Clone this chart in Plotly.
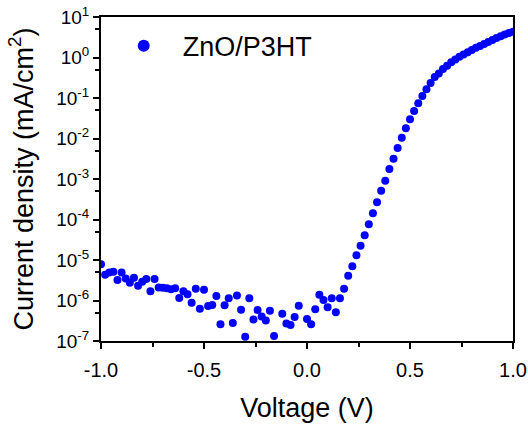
import plotly.graph_objects as go

voltage = [-1.00, -0.98, -0.96, -0.94, -0.92, -0.90, -0.88, -0.86, -0.84, -0.82,
           -0.80, -0.78, -0.76, -0.74, -0.72, -0.70, -0.68, -0.66, -0.64, -0.62,
           -0.60, -0.58, -0.56, -0.54, -0.52, -0.50, -0.48, -0.46, -0.44, -0.42,
           -0.40, -0.38, -0.36, -0.34, -0.32, -0.30, -0.28, -0.26, -0.24, -0.22,
           -0.20, -0.18, -0.16, -0.14, -0.12, -0.10, -0.08, -0.06, -0.04, -0.02,
           0.00, 0.02, 0.04, 0.06, 0.08, 0.10, 0.12, 0.14, 0.16, 0.18,
           0.20, 0.22, 0.24, 0.26, 0.28, 0.30, 0.32, 0.34, 0.36, 0.38,
           0.40, 0.42, 0.44, 0.46, 0.48, 0.50, 0.52, 0.54, 0.56, 0.58,
           0.60, 0.62, 0.64, 0.66, 0.68, 0.70, 0.72, 0.74, 0.76, 0.78,
           0.80, 0.82, 0.84, 0.86, 0.88, 0.90, 0.92, 0.94, 0.96, 0.98, 1.00]

current_density = [7.8e-6, 4.3e-6, 4.9e-6, 5.1e-6, 3.2e-6, 4.9e-6, 3.5e-6, 2.75e-6, 3.65e-6, 2.3e-6,
                   2.9e-6, 3.4e-6, 1.7e-6, 3.4e-6, 2.1e-6, 2.07e-6, 2.0e-6, 1.9e-6, 2.0e-6, 1.15e-6,
                   1.7e-6, 1.42e-6, 8.8e-7, 1.96e-6, 6.3e-7, 1.85e-6, 7.3e-7, 7.7e-7, 1.29e-6, 2.6e-7,
                   7.6e-7, 1.13e-6, 2.8e-7, 1.32e-6, 5.9e-7, 1.28e-7, 1.13e-6, 3.4e-7, 5.8e-7, 4.0e-7,
                   3.2e-7, 5.6e-7, 1.33e-7, None, 4.7e-7, 2.7e-7, 2.5e-7, 3.9e-7, 7.4e-7, 5.4e-8,
                   3.5e-7, 2.6e-7, 6.1e-7, 1.39e-6, 1.03e-6, 6.8e-7, 1.13e-6, 5.1e-7, 1.13e-6, 1.95e-6,
                   4.1e-6, 7.0e-6, 1.31e-5, 2.25e-5, 4.1e-5, 7.6e-5, 1.42e-4, 2.66e-4, 5.1e-4, 9.1e-4,
                   1.77e-3, 3.17e-3, 5.8e-3, 1.05e-2, 1.79e-2, 2.98e-2, 4.78e-2, 7.4e-2, 0.112, 0.164,
                   0.234, 0.330, 0.403, 0.520, 0.628, 0.760, 0.893, 1.047, 1.186, 1.343,
                   1.531, 1.738, 1.923, 2.153, 2.415, 2.704, 3.027, 3.334, 3.673, 4.027, 4.335]

series_name = "ZnO/P3HT"

x_tick_vals = [-1.0, -0.5, 0.0, 0.5, 1.0]
x_tick_text = ["-1.0", "-0.5", "0.0", "0.5", "1.0"]
y_tick_vals = [1e-7, 1e-6, 1e-5, 1e-4, 1e-3, 1e-2, 1e-1, 1e0, 1e1]
y_tick_text = ["10<sup>-7</sup>", "10<sup>-6</sup>", "10<sup>-5</sup>", "10<sup>-4</sup>",
               "10<sup>-3</sup>", "10<sup>-2</sup>", "10<sup>-1</sup>", "10<sup>0</sup>", "10<sup>1</sup>"]
y_minor_vals = [5e-7, 5e-6, 5e-5, 5e-4, 5e-3, 5e-2, 5e-1, 5e0]
x_minor_vals = [-0.75, -0.25, 0.25, 0.75]

FONT = "Arial, 'Liberation Sans', sans-serif"

fig = go.Figure()
fig.add_trace(go.Scatter(
    x=voltage, y=current_density, mode="markers", name=series_name,
    marker=dict(color="#0000FF", size=8, line=dict(width=0)),
))

fig.update_layout(
    width=528, height=427,
    margin=dict(l=101, r=15, t=17, b=86),
    paper_bgcolor="white", plot_bgcolor="white",
    font=dict(family=FONT, color="black", size=20),
    showlegend=True,
    legend=dict(x=0.009, y=0.91, xanchor="left", yanchor="middle",
                font=dict(size=27, family=FONT), bgcolor="rgba(0,0,0,0)",
                itemsizing="constant", itemwidth=68),
    xaxis=dict(
        range=[-1.0, 1.0], tickvals=x_tick_vals, ticktext=x_tick_text,
        automargin=False,
        showline=True, linecolor="black", linewidth=2, mirror=True,
        ticks="outside", ticklen=6, tickwidth=2, tickcolor="black",
        ticklabelstandoff=4,
        showgrid=False, zeroline=False,
        tickfont=dict(size=20, family=FONT),
        title=dict(text="Voltage (V)", font=dict(size=27, family=FONT), standoff=18),
        minor=dict(tickvals=x_minor_vals, ticks="outside", ticklen=4, tickwidth=2, tickcolor="black", showgrid=False),
    ),
    yaxis=dict(
        type="log", range=[-7, 1], tickvals=y_tick_vals, ticktext=y_tick_text,
        automargin=False,
        showline=True, linecolor="black", linewidth=2, mirror=True,
        ticks="outside", ticklen=6, tickwidth=2, tickcolor="black",
        showgrid=False, zeroline=False,
        tickfont=dict(size=19, family=FONT),
        title=dict(text="Current density (mA/cm<sup>2</sup>)", font=dict(size=27, family=FONT), standoff=15),
        minor=dict(tickvals=y_minor_vals, ticks="outside", ticklen=4, tickwidth=2, tickcolor="black", showgrid=False),
    ),
)

fig.write_html("out.html")
